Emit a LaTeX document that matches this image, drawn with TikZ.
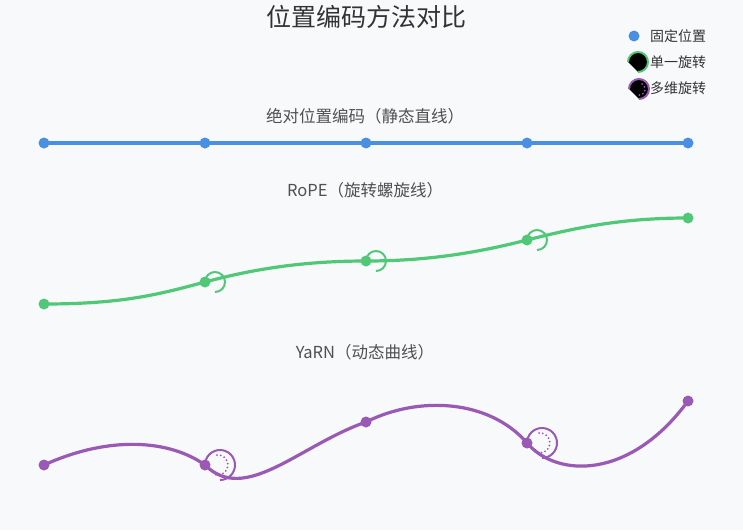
\documentclass[tikz,border=0pt]{standalone}
\usepackage{fontspec}
\setmainfont{Noto Sans CJK SC}
\usepackage{xcolor}
\definecolor{fixedblue}{RGB}{74, 144, 226}
\definecolor{ropegreen}{RGB}{80, 200, 120}
\definecolor{yarnpurple}{RGB}{155, 89, 182}
\definecolor{pagebg}{RGB}{248, 249, 251}
\definecolor{titlegray}{RGB}{51, 51, 51}
\definecolor{captiongray}{RGB}{80, 80, 80}
\usepackage{tikz}
\usetikzlibrary{positioning, calc}

\begin{document}
\begin{tikzpicture}[x=1pt, y=-1pt,
    posdot/.style={circle, inner sep=0pt, minimum size=11pt, fill=#1},
    pathline/.style={line width=3.2pt, draw=#1},
    rotarc/.style={line width=2pt, draw=#1},
    dotarc/.style={line width=2pt, draw=#1, dash pattern=on 0pt off 3.8pt, line cap=round},
    caption/.style={font=\fontsize{16.5}{19}\selectfont, text=captiongray},
    keytext/.style={font=\fontsize{14}{17}\selectfont, text=titlegray, anchor=west, inner sep=0pt}]
    % Canvas
    \fill[pagebg] (0,0) rectangle (743,530);

    % Title
    \node[font=\fontsize{25}{29}\selectfont, text=titlegray] (title) at (366,17) {位置编码方法对比};

    % Legend
    \node[posdot=fixedblue] (keyfixed) at (634,36) {};
    \node[keytext] (keyfixedtext) at (650,36) {固定位置};
    \draw[rotarc=ropegreen, fill=black] (628,62) coordinate (keyrope) arc[start angle=180, end angle=-90, radius=10pt];
    \node[keytext] (keyropetext) at (650,62) {单一旋转};
    \draw[rotarc=yarnpurple, fill=black] (629,89) coordinate (keyyarn) arc[start angle=180, end angle=-90, radius=10pt];
    \draw[dotarc=yarnpurple] ([shift={(13,-5)}]keyyarn) arc[start angle=60, end angle=-120, radius=6pt];
    \node[keytext] (keyyarntext) at (650,88) {多维旋转};

    % Row 1: absolute positions
    \node[caption] (abscaption) at (365,116) {绝对位置编码（静态直线）};
    \foreach \i/\x in {1/44, 2/205, 3/366, 4/527, 5/688}
        \coordinate (abs\i) at (\x,143);
    \draw[pathline=fixedblue] (abs1) -- (abs5);
    \foreach \i in {1,...,5}
        \node[posdot=fixedblue] (absdot\i) at (abs\i) {};

    % Row 2: RoPE
    \node[caption] (ropecaption) at (365,190) {RoPE（旋转螺旋线）};
    \coordinate (rope1) at (44,304);
    \coordinate (rope2) at (205,282);
    \coordinate (rope3) at (366,261);
    \coordinate (rope4) at (527,240);
    \coordinate (rope5) at (688,218);
    \draw[pathline=ropegreen] (rope1) .. controls +(80,0) and +(-45,12) .. (rope2)
        .. controls +(45,-12) and +(-66,0) .. (rope3)
        .. controls +(64,0) and +(-47,12) .. (rope4)
        .. controls +(48,-12) and +(-68,0) .. (rope5);
    \foreach \i in {2,3,4}
        \draw[rotarc=ropegreen] (rope\i) arc[start angle=180, end angle=-90, radius=10pt];
    \foreach \i in {1,...,5}
        \node[posdot=ropegreen] (ropedot\i) at (rope\i) {};

    % Row 3: YaRN
    \node[caption] (yarncaption) at (365,352) {YaRN（动态曲线）};
    \coordinate (yarn1) at (44,465);
    \coordinate (yarn2) at (205,465);
    \coordinate (yarn3) at (366,422);
    \coordinate (yarn4) at (527,443);
    \coordinate (yarn5) at (688,401);
    \draw[pathline=yarnpurple] (yarn1) .. controls +(66,-30) and +(-35,-25) .. (yarn2)
        .. controls +(40,40) and +(-66,23) .. (yarn3)
        .. controls +(54,-27) and +(-37,-43) .. (yarn4)
        .. controls +(30,35) and +(-58,79) .. (yarn5);
    \foreach \i in {2,4} {
        \draw[rotarc=yarnpurple] (yarn\i) arc[start angle=180, end angle=-90, radius=15pt];
        \draw[dotarc=yarnpurple] ([shift={(12,-10)}]yarn\i) arc[start angle=95, end angle=-120, radius=10pt];
    }
    \foreach \i in {1,...,5}
        \node[posdot=yarnpurple] (yarndot\i) at (yarn\i) {};
\end{tikzpicture}
\end{document}
